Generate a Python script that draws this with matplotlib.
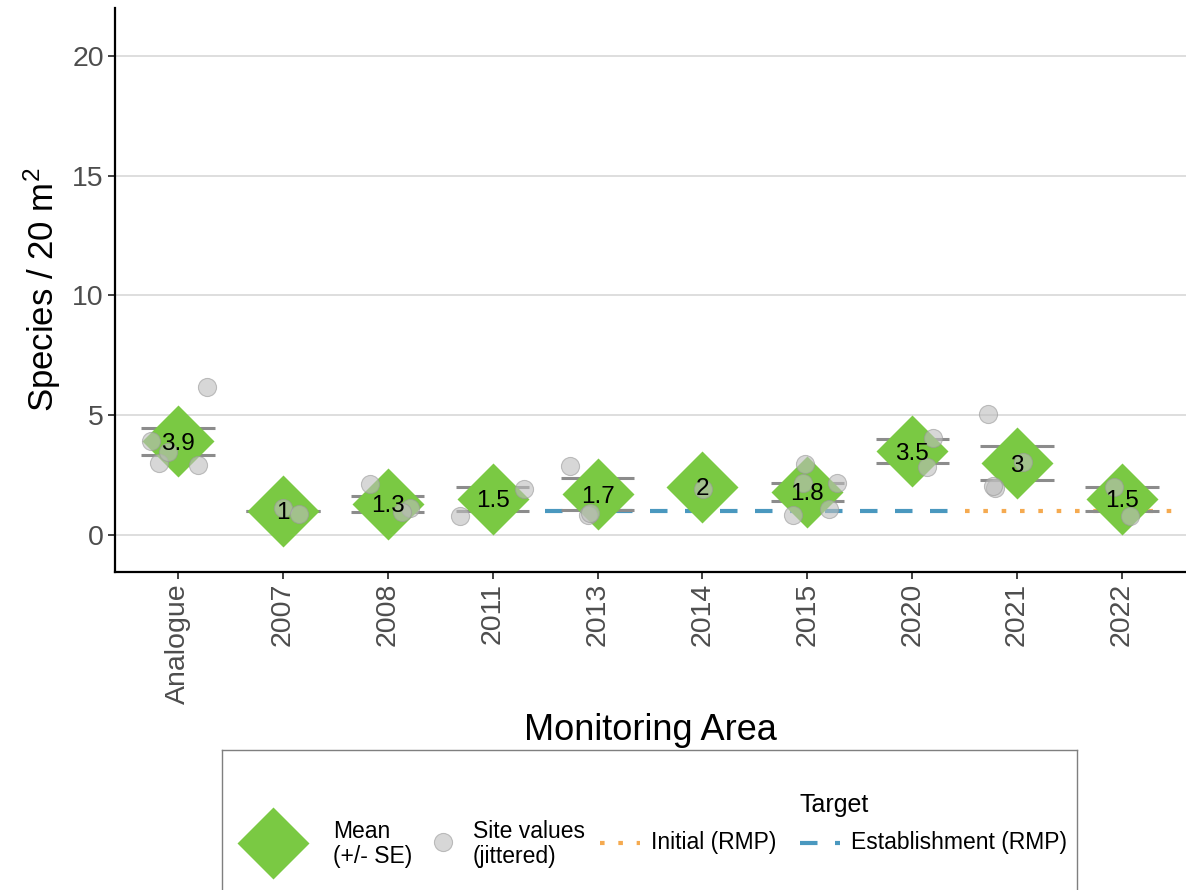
import numpy as np
import matplotlib
matplotlib.use("Agg")
import matplotlib.pyplot as plt

plt.rcParams["font.family"] = ["Liberation Sans", "DejaVu Sans"]
plt.rcParams["mathtext.fontset"] = "custom"
plt.rcParams["mathtext.rm"] = "Liberation Sans"
plt.rcParams["mathtext.it"] = "Liberation Sans:italic"

# ---- data -------------------------------------------------------------
areas = ["Analogue", "2007", "2008", "2011", "2013", "2014", "2015", "2020", "2021", "2022"]
mean_richness = [3.9, 1, 1.3, 1.5, 1.7, 2, 1.8, 3.5, 3, 1.5]
se_richness = [0.55, 0.0, 0.33, 0.5, 0.67, np.nan, 0.38, 0.5, 0.7, 0.5]

# individual sites (already jittered in x and y)
site_area = (["Analogue"] * 5 + ["2007"] * 2 + ["2008"] * 3 + ["2011"] * 2 + ["2013"] * 3
             + ["2014"] + ["2015"] * 5 + ["2020"] * 2 + ["2021"] * 4 + ["2022"] * 2)
site_jitter = [0.28, -0.26, -0.18, -0.09, 0.19,
               0.00, 0.15,
               -0.17, 0.21, 0.14,
               -0.31, 0.30,
               -0.26, -0.09, -0.07,
               0.01,
               -0.02, -0.04, 0.28, -0.14, 0.21,
               0.20, 0.14,
               -0.28, -0.21, -0.23, 0.06,
               -0.08, 0.08]
site_value = [6.18, 3.92, 3.00, 3.44, 2.92,
              1.14, 0.87,
              2.13, 1.12, 0.97,
              0.79, 1.92,
              2.88, 0.83, 0.90,
              1.92,
              2.96, 2.17, 2.18, 0.83, 1.08,
              4.05, 2.85,
              5.05, 1.96, 2.05, 3.06,
              2.02, 0.79]

target_value = 1
establishment_span = ("2013", "2020")
initial_span = ("2021", "2022")

# ---- styling ----------------------------------------------------------
GREEN = "#7AC943"
BLUE = "#4A98BF"
ORANGE = "#F5AA50"
SE_GREY = "#8C8C8C"
PT_FACE = "#BDBDBD"
PT_EDGE = "#9A9A9A"
DASHED = (0, (4.2, 4.2))
DOTTED = (0, (1.1, 3.3))

W, H = 1186, 890
fig = plt.figure(figsize=(W / 100, H / 100), dpi=100)
ax = fig.add_axes([115 / W, 1 - 572 / H, (1186 - 115) / W, (572 - 8) / H])

x = np.arange(len(areas))
pos = {a: i for i, a in enumerate(areas)}

# target lines
ax.plot([pos[establishment_span[0]] - 0.5, pos[establishment_span[1]] + 0.5],
        [target_value] * 2, color=BLUE, lw=3, ls=DASHED, dash_capstyle="butt", zorder=1.5)
ax.plot([pos[initial_span[0]] - 0.5, pos[initial_span[1]] + 0.5],
        [target_value] * 2, color=ORANGE, lw=3, ls=DOTTED, dash_capstyle="butt", zorder=1.5)

# standard error bars
for i, (m, s) in enumerate(zip(mean_richness, se_richness)):
    if np.isnan(s):
        continue
    ax.hlines([m - s, m + s], i - 0.35, i + 0.35, color=SE_GREY, lw=2.2, zorder=2)

# means
ax.plot(x, mean_richness, "D", ms=36.5, color=GREEN, mec="none", zorder=3)

# site values
sx = np.array([pos[a] for a in site_area]) + np.array(site_jitter)
ax.scatter(sx, site_value, s=170, facecolor=PT_FACE, edgecolor=PT_EDGE,
           linewidth=0.8, alpha=0.6, zorder=4)

# mean labels
for i, m in enumerate(mean_richness):
    ax.text(i, m, f"{m:g}", ha="center", va="center_baseline", fontsize=17.5,
            color="black", zorder=5)

ax.set_xlim(-0.6, 9.61)
ax.set_ylim(-1.55, 22.0)
ax.set_xticks(x, areas, rotation=90)
ax.set_yticks([0, 5, 10, 15, 20])
ax.yaxis.grid(True, color="#DEDEDE", lw=1.4)
ax.set_axisbelow(True)
for sp in ["top", "right"]:
    ax.spines[sp].set_visible(False)
for sp in ["left", "bottom"]:
    ax.spines[sp].set_color("black")
    ax.spines[sp].set_linewidth(1.6)
ax.tick_params(length=5, width=1.3, color="#333333", labelcolor="#4D4D4D",
               labelsize=20.5, pad=3)
ax.set_xlabel("Monitoring Area", fontsize=26, labelpad=7)
ax.set_ylabel("Species / 20 m$^{2}$", fontsize=25, labelpad=7)

# ---- legend box -------------------------------------------------------
lax = fig.add_axes([222 / W, 1 - 900 / H, (1077 - 222) / W, 150 / H])
lax.set_xlim(222, 1077)
lax.set_ylim(900, 750)
lax.set_xticks([])
lax.set_yticks([])
for sp in lax.spines.values():
    sp.set_color("#7F7F7F")
    sp.set_linewidth(1.0)

ky = 843
lax.plot([273], [ky], "D", ms=37, color=GREEN, mec="none")
lax.text(333, 831, "Mean", fontsize=16.5, va="center")
lax.text(333, 857, "(+/- SE)", fontsize=16.5, va="center")
lax.scatter([443], [ky - 1], s=170, facecolor=PT_FACE, edgecolor=PT_EDGE,
            linewidth=0.8, alpha=0.6)
lax.text(473, 831, "Site values", fontsize=16.5, va="center")
lax.text(473, 857, "(jittered)", fontsize=16.5, va="center")
lax.plot([600, 640], [ky, ky], color=ORANGE, lw=3, ls=DOTTED, dash_capstyle="butt")
lax.text(651, ky, "Initial (RMP)", fontsize=16.5, va="center")
lax.text(800, 805, "Target", fontsize=18, va="center")
lax.plot([800, 840], [ky, ky], color=BLUE, lw=3, ls=DASHED, dash_capstyle="butt")
lax.text(851, ky, "Establishment (RMP)", fontsize=16.5, va="center")

fig.savefig("out.png", dpi=100)
